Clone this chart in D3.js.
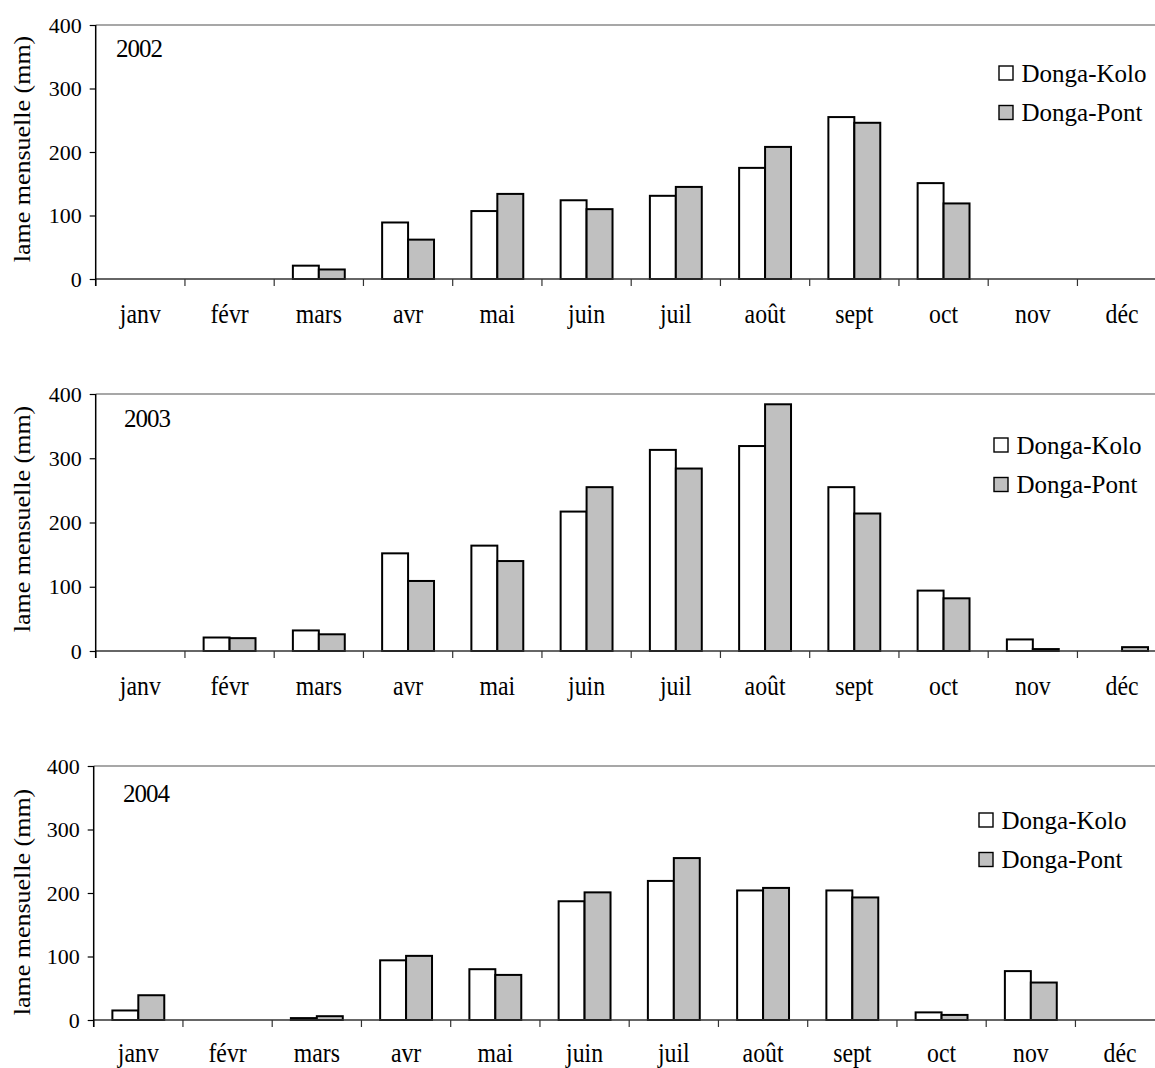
<!DOCTYPE html>
<html>
<head>
<meta charset="utf-8">
<script src="https://cdn.jsdelivr.net/npm/d3@7"></script>
<style>
  html, body { margin: 0; padding: 0; background: #fff; }
  svg { display: block; }
  text { font-family: "Liberation Serif", "Times New Roman", serif; fill: #000; }
</style>
</head>
<body>
<svg id="chart" width="1155" height="1068"></svg>
<script>
// Monthly runoff depth (mm) at the two Donga gauging stations
const months = ["janv", "févr", "mars", "avr", "mai", "juin", "juil", "août", "sept", "oct", "nov", "déc"];
const seriesNames = ["Donga-Kolo", "Donga-Pont"];
const yTicks = [0, 100, 200, 300, 400];

const kolo2002 = [0, 0, 21, 89, 107, 124, 131, 175, 255, 151, 0, 0];
const pont2002 = [0, 0, 15, 62, 134, 110, 145, 208, 246, 119, 0, 0];

const kolo2003 = [0, 21, 32, 152, 164, 217, 313, 319, 255, 94, 18, 0];
const pont2003 = [0, 20, 26, 109, 140, 255, 284, 384, 214, 82, 3, 6];

const kolo2004 = [15, 0, 3, 94, 80, 187, 219, 204, 204, 12, 77, 0];
const pont2004 = [39, 0, 6, 101, 71, 201, 255, 208, 193, 8, 59, 0];

const W = 1155;
const fills = ["#ffffff", "#c0c0c0"];

// one panel per year, stacked vertically
const panels = [
  { year: "2002", values: [kolo2002, pont2002], x0: 95.7, top: 25,  zero: 279,  labelDy: 44, yearX: 116, yearY: 57,  legX: 999, legY: 66,  titleY: 149 },
  { year: "2003", values: [kolo2003, pont2003], x0: 95.7, top: 394, zero: 651,  labelDy: 44, yearX: 124, yearY: 427, legX: 994, legY: 438, titleY: 519 },
  { year: "2004", values: [kolo2004, pont2004], x0: 93.7, top: 766, zero: 1020, labelDy: 42, yearX: 123, yearY: 802, legX: 979, legY: 813, titleY: 902 }
];

const svg = d3.select("#chart");

panels.forEach(p => {
  const g = svg.append("g");

  const x = d3.scaleBand().domain(months).range([p.x0, p.x0 + 1071]).paddingInner(0).paddingOuter(0);
  const xs = d3.scaleBand().domain([0, 1]).range([0, x.bandwidth()]).paddingInner(0).paddingOuter(0.72);
  const y = d3.scaleLinear().domain([0, 400]).range([p.zero, p.top]);

  // top frame line
  g.append("line")
    .attr("x1", p.x0).attr("x2", W)
    .attr("y1", y(400)).attr("y2", y(400))
    .attr("stroke", "#8a8a8a").attr("stroke-width", 1.5);

  // bars
  p.values.forEach((vals, si) => {
    g.append("g").selectAll("rect")
      .data(vals.map((v, i) => ({ m: months[i], v })).filter(d => d.v > 0))
      .join("rect")
      .attr("x", d => x(d.m) + xs(si))
      .attr("width", xs.bandwidth())
      .attr("y", d => y(d.v))
      .attr("height", d => y(0) - y(d.v))
      .attr("fill", fills[si])
      .attr("stroke", "#000")
      .attr("stroke-width", 2);
  });

  // baseline and category boundary ticks
  g.append("line")
    .attr("x1", p.x0).attr("x2", W)
    .attr("y1", y(0)).attr("y2", y(0))
    .attr("stroke", "#333").attr("stroke-width", 1.6);
  g.append("g").selectAll("line")
    .data(months)
    .join("line")
    .attr("x1", d => x(d)).attr("x2", d => x(d))
    .attr("y1", y(0)).attr("y2", y(0) + 7)
    .attr("stroke", "#333").attr("stroke-width", 1.2);

  // month labels
  g.append("g").selectAll("text")
    .data(months)
    .join("text")
    .attr("transform", d => `translate(${x(d) + x.bandwidth() / 2},${y(0) + p.labelDy}) scale(0.88,1)`)
    .attr("text-anchor", "middle")
    .style("font-size", "27px")
    .text(d => d);

  // value axis
  const yAxis = d3.axisLeft(y).tickValues(yTicks).tickSize(6).tickPadding(8).tickSizeOuter(0);
  const ya = g.append("g").attr("transform", `translate(${p.x0},0)`).call(yAxis);
  ya.select(".domain").remove();
  ya.selectAll(".tick line").attr("stroke", "#000").attr("stroke-width", 1.2);
  ya.selectAll(".tick text")
    .style("font-family", "'Liberation Serif', 'Times New Roman', serif")
    .style("font-size", "22px").attr("fill", "#000");
  g.append("line")
    .attr("x1", p.x0).attr("x2", p.x0)
    .attr("y1", y(400)).attr("y2", y(0) + 7)
    .attr("stroke", "#000").attr("stroke-width", 1.5);

  // axis title
  g.append("text")
    .attr("transform", `translate(23,${p.titleY}) rotate(-90) scale(1,0.85)`)
    .attr("text-anchor", "middle")
    .attr("dominant-baseline", "central")
    .style("font-size", "26px")
    .text("lame mensuelle (mm)");

  // year label
  g.append("text")
    .attr("x", p.yearX).attr("y", p.yearY)
    .style("font-size", "25px")
    .style("letter-spacing", "-1px")
    .text(p.year);

  // legend
  const leg = g.append("g").attr("transform", `translate(${p.legX},${p.legY})`);
  seriesNames.forEach((name, i) => {
    leg.append("rect")
      .attr("x", 0).attr("y", i * 39.5)
      .attr("width", 14).attr("height", 14)
      .attr("fill", fills[i]).attr("stroke", "#000").attr("stroke-width", 1.4);
    leg.append("text")
      .attr("x", 22.5).attr("y", i * 39.5 + 15.5)
      .style("font-size", "25px")
      .text(name);
  });
});
</script>
</body>
</html>
